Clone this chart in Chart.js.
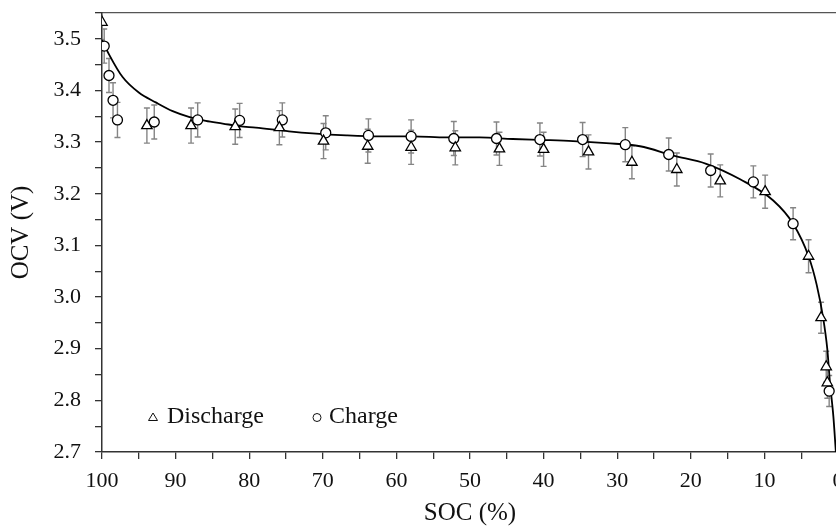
<!DOCTYPE html>
<html>
<head>
<meta charset="utf-8">
<script src="https://cdn.jsdelivr.net/npm/chart.js@4.4.0/dist/chart.umd.min.js"></script>
<style>
  html, body { margin: 0; padding: 0; background: #fff; overflow: hidden; }
  #wrap { width: 880px; height: 529px; }
</style>
</head>
<body>
<div id="wrap"><canvas id="mycanvas" width="880" height="529"></canvas></div>
<script>
// measured points (SOC %, OCV V, error bar half-height V)
var dischargeSoc = [100, 93.9, 87.9, 81.9, 75.9, 69.9, 63.9, 58.0, 52.0, 46.0, 40.0, 33.9, 28.0, 21.9, 16.0, 9.9, 4.0, 2.3, 1.6, 1.45];
var dischargeOcv = [3.532, 3.332, 3.332, 3.330, 3.328, 3.302, 3.292, 3.290, 3.289, 3.287, 3.286, 3.281, 3.261, 3.247, 3.225, 3.204, 3.079, 2.960, 2.865, 2.834];
var dischargeErr = [0.033, 0.034, 0.034, 0.034, 0.033, 0.034, 0.033, 0.033, 0.033, 0.032, 0.033, 0.033, 0.032, 0.032, 0.031, 0.032, 0.032, 0.030, 0.030, 0.030];

var chargeSoc = [99.7, 99.05, 98.5, 97.9, 92.9, 87.0, 81.3, 75.5, 69.6, 63.8, 58.0, 52.2, 46.4, 40.5, 34.7, 28.9, 23.0, 17.3, 11.5, 6.1, 1.2];
var chargeOcv = [3.486, 3.429, 3.381, 3.343, 3.339, 3.343, 3.342, 3.343, 3.318, 3.313, 3.311, 3.307, 3.307, 3.305, 3.305, 3.295, 3.276, 3.245, 3.223, 3.142, 2.818];
var chargeErr = [0.033, 0.033, 0.034, 0.034, 0.033, 0.033, 0.033, 0.033, 0.033, 0.032, 0.032, 0.033, 0.032, 0.032, 0.033, 0.033, 0.032, 0.032, 0.031, 0.031, 0.030];

// fitted OCV curve
var curveSoc = [100, 99.05, 97.2, 95, 92.7, 90.4, 88.2, 85.9, 83.6, 81.4, 79.1, 74.6, 71.4, 66.8, 62.3, 57.8, 53.2, 48.7, 44.2, 39.6, 36.0, 31.5, 26.9, 22.4, 17.9, 13.3, 8.8, 6.1, 4.0, 2.9, 2.0, 1.46, 1.09, 0.63, 0.31, 0];
var curveOcv = [3.498, 3.470, 3.426, 3.396, 3.377, 3.360, 3.349, 3.341, 3.336, 3.331, 3.328, 3.321, 3.317, 3.313, 3.311, 3.311, 3.309, 3.309, 3.306, 3.304, 3.302, 3.298, 3.292, 3.274, 3.258, 3.228, 3.187, 3.142, 3.079, 3.024, 2.958, 2.900, 2.834, 2.769, 2.704, 2.64];

var xTitle = 'SOC (%)';
var yTitle = 'OCV (V)';
var FONT = "'Liberation Serif', 'DejaVu Serif', serif";

function pts(xs, ys) {
  var out = [];
  for (var i = 0; i < xs.length; i++) out.push({x: xs[i], y: ys[i]});
  return out;
}

var errorBars = {
  id: 'errorBars',
  beforeDatasetsDraw: function(chart) {
    var ctx = chart.ctx, a = chart.chartArea;
    var xs = chart.scales.x, ys = chart.scales.y;
    ctx.save();
    ctx.beginPath();
    ctx.rect(a.left, a.top, a.right - a.left, a.bottom - a.top);
    ctx.clip();
    ctx.strokeStyle = '#858585';
    ctx.lineWidth = 1.4;
    chart.data.datasets.forEach(function(ds) {
      if (!ds.err) return;
      ds.data.forEach(function(p, i) {
        var px = xs.getPixelForValue(p.x);
        var top = ys.getPixelForValue(p.y + ds.err[i]);
        var bot = ys.getPixelForValue(p.y - ds.err[i]);
        ctx.beginPath();
        ctx.moveTo(px, top); ctx.lineTo(px, bot);
        ctx.moveTo(px - 3, top); ctx.lineTo(px + 3, top);
        ctx.moveTo(px - 3, bot); ctx.lineTo(px + 3, bot);
        ctx.stroke();
      });
    });
    ctx.restore();
  }
};

var innerLegend = {
  id: 'innerLegend',
  afterDraw: function(chart) {
    var ctx = chart.ctx, a = chart.chartArea;
    var y = a.bottom - 35;
    ctx.save();
    ctx.font = "24px " + FONT;
    ctx.fillStyle = '#111';
    ctx.textBaseline = 'middle';
    ctx.strokeStyle = '#111';
    ctx.lineWidth = 1;
    // triangle
    var tx = a.left + 51;
    ctx.beginPath();
    ctx.moveTo(tx, y - 4); ctx.lineTo(tx + 4.5, y + 3.5); ctx.lineTo(tx - 4.5, y + 3.5); ctx.closePath();
    ctx.stroke();
    ctx.fillText(chart.data.datasets[0].label, tx + 14, y);
    // circle
    var cx = a.left + 215;
    ctx.beginPath();
    ctx.arc(cx, y + 0.5, 4, 0, Math.PI * 2);
    ctx.stroke();
    ctx.fillText(chart.data.datasets[1].label, cx + 12, y);
    ctx.restore();
  }
};

var ctx = document.getElementById('mycanvas');

var chart = new Chart(ctx, {
  type: 'scatter',
  data: {
    datasets: [
      {
        label: 'Discharge',
        data: pts(dischargeSoc, dischargeOcv),
        err: dischargeErr,
        pointStyle: 'triangle',
        pointRadius: 6,
        backgroundColor: '#fff',
        borderColor: '#000',
        borderWidth: 1.3,
        order: 1
      },
      {
        label: 'Charge',
        data: pts(chargeSoc, chargeOcv),
        err: chargeErr,
        pointStyle: 'circle',
        pointRadius: 5,
        backgroundColor: '#fff',
        borderColor: '#000',
        borderWidth: 1.3,
        order: 2
      },
      {
        label: 'Fit',
        data: pts(curveSoc, curveOcv),
        showLine: true,
        pointRadius: 0,
        borderColor: '#000',
        borderWidth: 1.8,
        cubicInterpolationMode: 'monotone',
        order: 3
      }
    ]
  },
  options: {
    responsive: false,
    animation: false,
    devicePixelRatio: 1,
    layout: { padding: { top: 13, right: 42, left: 0, bottom: 0 } },
    plugins: { legend: { display: false }, tooltip: { enabled: false } },
    scales: {
      x: {
        type: 'linear',
        reverse: true,
        min: 0, max: 100,
        afterFit: function(s) { s.height = 77; },
        border: { display: true, color: '#333', width: 1.5 },
        grid: { drawOnChartArea: false, drawTicks: true, tickLength: 7, color: '#333', lineWidth: 1.3 },
        ticks: {
          stepSize: 5, autoSkip: false, maxRotation: 0, padding: 9, color: '#111',
          font: { family: FONT, size: 22 },
          callback: function(v) { return v % 10 === 0 ? v : ''; }
        },
        title: { display: true, text: xTitle, color: '#111', font: { family: FONT, size: 25 }, padding: { top: 0, bottom: 1 } }
      },
      x2: {
        type: 'linear',
        position: 'top',
        min: 0, max: 100,
        afterFit: function(s) { s.height = 0; },
        border: { display: true, color: '#555', width: 1.3 },
        grid: { display: false },
        ticks: { display: false }
      },
      y: {
        type: 'linear',
        min: 2.7, max: 3.55,
        afterFit: function(s) { s.width = 102; s.paddingTop = 0; s.paddingBottom = 0; },
        border: { display: true, color: '#333', width: 1.5 },
        grid: { drawOnChartArea: false, drawTicks: true, tickLength: 7, color: '#333', lineWidth: 1.3 },
        ticks: {
          stepSize: 0.05, autoSkip: false, padding: 14, color: '#111',
          font: { family: FONT, size: 22 },
          callback: function(v) {
            var r = Math.round(v * 100);
            return r % 10 === 0 ? (r / 100).toFixed(1) : '';
          }
        },
        title: { display: true, text: yTitle, color: '#111', font: { family: FONT, size: 25 }, padding: { top: 6, bottom: 0 } }
      }
    }
  },
  plugins: [errorBars, innerLegend]
});
</script>
</body>
</html>
